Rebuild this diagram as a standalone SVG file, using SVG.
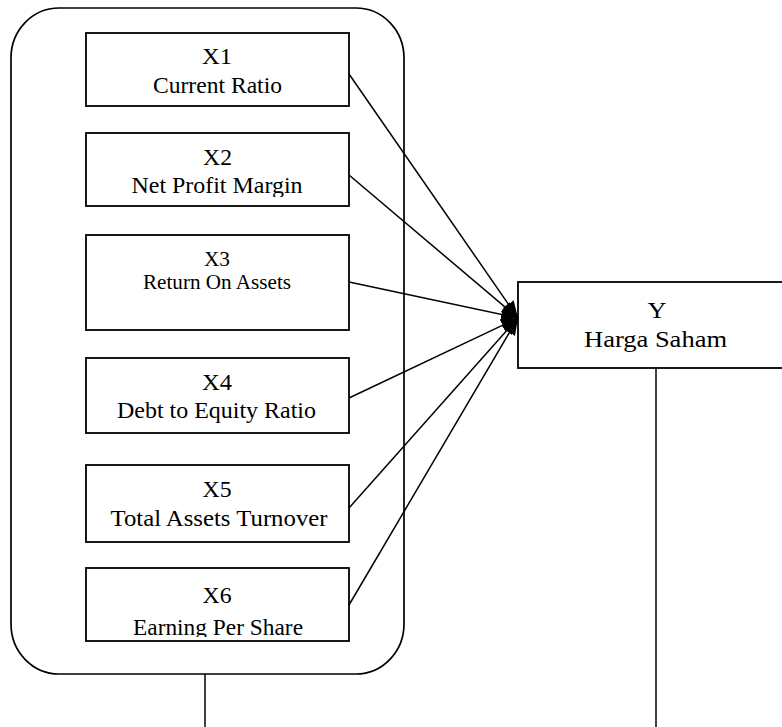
<svg xmlns="http://www.w3.org/2000/svg" width="782" height="727" viewBox="0 0 782 727">
<style>
.box{fill:#fff;stroke:#000;stroke-width:1.8}
.frame{fill:none;stroke:#000;stroke-width:1.7}
.ln{fill:none;stroke:#000;stroke-width:1.5}
.t{font-family:"Liberation Serif","Times New Roman",serif;font-size:24px;fill:#000;text-anchor:middle}
</style>
<defs>
<marker id="ah" markerUnits="userSpaceOnUse" markerWidth="18" markerHeight="16" refX="17" refY="8" orient="auto">
<path d="M0,1.5 L17,8 L0,14.5 z" fill="#000"/>
</marker>
<clipPath id="c2"><rect x="86" y="133" width="263" height="64"/></clipPath>
<clipPath id="c6"><rect x="86" y="568" width="263" height="69"/></clipPath>
</defs>
<rect width="782" height="727" fill="#fff"/>
<g id="group">
<rect class="frame" x="11" y="8" width="393" height="666" rx="48" ry="50"/>
</g>
<g id="x1">
<rect class="box" x="86" y="33" width="263" height="73"/>
<text class="t" x="217" y="64" textLength="30" lengthAdjust="spacingAndGlyphs">X1</text>
<text class="t" x="217.5" y="93" textLength="129" lengthAdjust="spacingAndGlyphs">Current Ratio</text>
</g>
<g id="x2">
<rect class="box" x="86" y="133" width="263" height="73"/>
<g clip-path="url(#c2)">
<text class="t" x="217.5" y="165" textLength="29" lengthAdjust="spacingAndGlyphs">X2</text>
<text class="t" x="217" y="193" textLength="171" lengthAdjust="spacingAndGlyphs">Net Profit Margin</text>
</g>
</g>
<g id="x3">
<rect class="box" x="86" y="235" width="263" height="95"/>
<text class="t" x="217" y="266" textLength="26" lengthAdjust="spacingAndGlyphs" style="font-size:22px">X3</text>
<text class="t" x="217" y="289" textLength="148" lengthAdjust="spacingAndGlyphs" style="font-size:22px">Return On Assets</text>
</g>
<g id="x4">
<rect class="box" x="86" y="358" width="263" height="75"/>
<text class="t" x="217" y="390" textLength="30" lengthAdjust="spacingAndGlyphs">X4</text>
<text class="t" x="216.5" y="418" textLength="199" lengthAdjust="spacingAndGlyphs">Debt to Equity Ratio</text>
</g>
<g id="x5">
<rect class="box" x="86" y="465" width="263" height="77"/>
<text class="t" x="217" y="497" textLength="29" lengthAdjust="spacingAndGlyphs">X5</text>
<text class="t" x="219" y="526" textLength="217" lengthAdjust="spacingAndGlyphs">Total Assets Turnover</text>
</g>
<g id="x6">
<rect class="box" x="86" y="568" width="263" height="73"/>
<g clip-path="url(#c6)">
<text class="t" x="217" y="603" textLength="29" lengthAdjust="spacingAndGlyphs">X6</text>
<text class="t" x="218" y="635" textLength="170" lengthAdjust="spacingAndGlyphs">Earning Per Share</text>
</g>
</g>
<g id="y">
<rect class="box" x="518" y="282" width="272" height="86"/>
<text class="t" x="657" y="318" textLength="19" lengthAdjust="spacingAndGlyphs">Y</text>
<text class="t" x="655.5" y="347" textLength="143" lengthAdjust="spacingAndGlyphs">Harga Saham</text>
</g>
<g id="connectors">
<line class="ln" x1="349" y1="74" x2="518" y2="318" marker-end="url(#ah)"/>
<line class="ln" x1="349" y1="175" x2="518" y2="318" marker-end="url(#ah)"/>
<line class="ln" x1="349" y1="282" x2="518" y2="318" marker-end="url(#ah)"/>
<line class="ln" x1="349" y1="398" x2="518" y2="318" marker-end="url(#ah)"/>
<line class="ln" x1="349" y1="508" x2="518" y2="318" marker-end="url(#ah)"/>
<line class="ln" x1="349" y1="605" x2="518" y2="318" marker-end="url(#ah)"/>
<line class="ln" x1="205" y1="674" x2="205" y2="727"/>
<line class="ln" x1="656" y1="368" x2="656" y2="727"/>
</g>
</svg>
